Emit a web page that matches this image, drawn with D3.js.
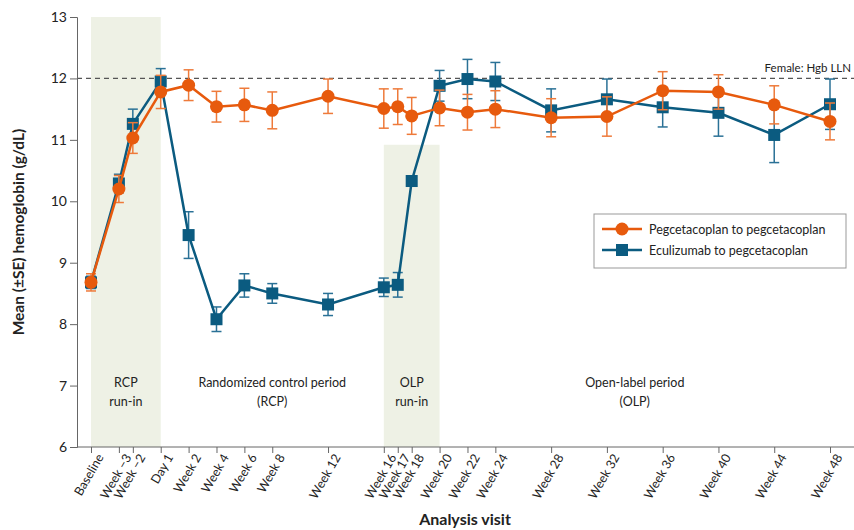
<!DOCTYPE html>
<html>
<head>
<meta charset="utf-8">
<script src="https://cdn.jsdelivr.net/npm/d3@7"></script>
<style>
body { margin: 0; background: #fff; }
svg { font-family: Lato, "Open Sans", sans-serif; }
</style>
</head>
<body>
<svg id="chart" width="854" height="530"></svg>
<script>
// visit positions in weeks (Day 1 = 0, baseline placed 5 weeks before)
const visits = [-5, -3, -2, 0, 2, 4, 6, 8, 12, 16, 17, 18, 20, 22, 24, 28, 32, 36, 40, 44, 48];
const visitLabels = ['Baseline', 'Week \u22123', 'Week \u22122', 'Day 1', 'Week 2', 'Week 4', 'Week 6', 'Week 8',
    'Week 12', 'Week 16', 'Week 17', 'Week 18', 'Week 20', 'Week 22', 'Week 24', 'Week 28', 'Week 32',
    'Week 36', 'Week 40', 'Week 44', 'Week 48'];

const pegMean = [8.68, 10.2, 11.03, 11.78, 11.89, 11.54, 11.57, 11.48, 11.71, 11.51, 11.54, 11.39, 11.52,
    11.45, 11.5, 11.36, 11.38, 11.8, 11.78, 11.57, 11.3];
const pegSE = [0.14, 0.22, 0.25, 0.27, 0.25, 0.25, 0.27, 0.3, 0.28, 0.32, 0.29, 0.3, 0.29,
    0.29, 0.3, 0.31, 0.32, 0.31, 0.28, 0.31, 0.3];

const eculMean = [8.68, 10.29, 11.26, 11.95, 9.45, 8.08, 8.63, 8.5, 8.32, 8.6, 8.64, 10.33, 11.88,
    11.99, 11.95, 11.48, 11.66, 11.53, 11.44, 11.08, 11.58];
const eculSE = [0.1, 0.15, 0.24, 0.21, 0.38, 0.2, 0.19, 0.16, 0.18, 0.15, 0.2, 0.08, 0.25,
    0.32, 0.31, 0.35, 0.33, 0.32, 0.38, 0.45, 0.41];

const yTicks = [6, 7, 8, 9, 10, 11, 12, 13];
const lln = 12;

const periods = [
    { label: ['RCP', 'run-in'], x0: -5, x1: 0, top: 13, shade: true },
    { label: ['Randomized control period', '(RCP)'], x0: 0, x1: 16, top: 13, shade: false },
    { label: ['OLP', 'run-in'], x0: 16, x1: 20, top: 10.92, shade: true },
    { label: ['Open-label period', '(OLP)'], x0: 20, x1: 48, top: 13, shade: false }
];

const series = [
    { name: 'Pegcetacoplan to pegcetacoplan', mean: pegMean, se: pegSE, color: '#e75a0d', errColor: '#ee7a3a', shape: 'circle' },
    { name: 'Eculizumab to pegcetacoplan', mean: eculMean, se: eculSE, color: '#0b5b80', errColor: '#2a7196', shape: 'square' }
];

const svg = d3.select('#chart');
const margin = { left: 77, top: 17, right: 0, bottom: 83 };
const width = 854, height = 530;

const x = d3.scaleLinear().domain([-5, 48]).range([91, 830]);
const y = d3.scaleLinear().domain([6, 13]).range([447, 17]);

// shaded run-in regions
svg.append('g').selectAll('rect')
    .data(periods.filter(p => p.shade))
    .join('rect')
    .attr('x', d => x(d.x0))
    .attr('width', d => x(d.x1) - x(d.x0))
    .attr('y', d => y(d.top))
    .attr('height', d => y(6) - y(d.top))
    .attr('fill', '#eef1e5');

// period labels
const plab = svg.append('g').selectAll('text')
    .data(periods)
    .join('text')
    .attr('x', d => (x(d.x0) + x(d.x1)) / 2)
    .attr('y', 387)
    .attr('text-anchor', 'middle')
    .attr('font-size', 12.5)
    .attr('fill', '#222');
plab.each(function(d) {
    d3.select(this).selectAll('tspan')
        .data(d.label)
        .join('tspan')
        .attr('x', (x(d.x0) + x(d.x1)) / 2)
        .attr('dy', (t, i) => i === 0 ? 0 : 19)
        .text(t => t);
});

// LLN reference line
svg.append('line')
    .attr('x1', margin.left).attr('x2', width)
    .attr('y1', y(lln)).attr('y2', y(lln))
    .attr('stroke', '#555').attr('stroke-width', 1.2)
    .attr('stroke-dasharray', '5,4');
svg.append('text')
    .attr('x', 851).attr('y', y(lln) - 6)
    .attr('text-anchor', 'end')
    .attr('font-size', 11.5)
    .attr('fill', '#222')
    .text('Female: Hgb LLN');

// y axis
const yAxis = svg.append('g')
    .attr('transform', `translate(${margin.left},0)`)
    .call(d3.axisLeft(y).tickValues(yTicks).tickSize(7).tickFormat(d3.format('d')));
yAxis.selectAll('text').attr('font-size', 14).attr('fill', '#222').attr('font-family', 'Lato, sans-serif');
yAxis.selectAll('line, path').attr('stroke', '#666');

// x axis
const xAxis = svg.append('g')
    .attr('transform', `translate(0,${y(6)})`)
    .call(d3.axisBottom(x).tickValues(visits).tickSize(6).tickFormat((d, i) => visitLabels[i]));
xAxis.select('.domain').attr('d', `M${margin.left},0H${width}`).attr('stroke', '#666');
xAxis.selectAll('line').attr('stroke', '#666');
xAxis.selectAll('text')
    .attr('font-size', 12.5)
    .attr('fill', '#222')
    .attr('font-family', 'Lato, sans-serif')
    .attr('text-anchor', 'end')
    .attr('dx', '-0.2em')
    .attr('dy', '0.55em')
    .attr('transform', 'rotate(-60)');

// axis titles
svg.append('text')
    .attr('transform', `translate(24,${(y(6) + y(13)) / 2}) rotate(-90)`)
    .attr('text-anchor', 'middle')
    .attr('font-size', 15.5)
    .attr('font-weight', 'bold')
    .attr('fill', '#222')
    .text('Mean (\u00b1SE) hemoglobin (g/dL)');
svg.append('text')
    .attr('x', 465).attr('y', 525)
    .attr('text-anchor', 'middle')
    .attr('font-size', 16)
    .attr('font-weight', 'bold')
    .attr('fill', '#222')
    .text('Analysis visit');

// series: error bars, lines, markers (blue drawn first so orange sits on top)
const line = d3.line().x(d => x(d.v)).y(d => y(d.m));
series.slice().reverse().forEach(s => {
    const pts = visits.map((v, i) => ({ v: v, m: s.mean[i], se: s.se[i] }));
    const g = svg.append('g');
    const eb = g.selectAll('g.eb').data(pts).join('g').attr('class', 'eb')
        .attr('stroke', s.errColor).attr('stroke-width', 1.5);
    eb.append('line')
        .attr('x1', d => x(d.v)).attr('x2', d => x(d.v))
        .attr('y1', d => y(d.m - d.se)).attr('y2', d => y(d.m + d.se));
    eb.append('line')
        .attr('x1', d => x(d.v) - 5).attr('x2', d => x(d.v) + 5)
        .attr('y1', d => y(d.m - d.se)).attr('y2', d => y(d.m - d.se));
    eb.append('line')
        .attr('x1', d => x(d.v) - 5).attr('x2', d => x(d.v) + 5)
        .attr('y1', d => y(d.m + d.se)).attr('y2', d => y(d.m + d.se));
    g.append('path').datum(pts)
        .attr('d', line).attr('fill', 'none')
        .attr('stroke', s.color).attr('stroke-width', 2.5);
    if (s.shape === 'circle') {
        g.selectAll('circle').data(pts).join('circle')
            .attr('cx', d => x(d.v)).attr('cy', d => y(d.m)).attr('r', 6.5)
            .attr('fill', s.color);
    } else {
        g.selectAll('rect').data(pts).join('rect')
            .attr('x', d => x(d.v) - 6).attr('y', d => y(d.m) - 6)
            .attr('width', 12).attr('height', 12)
            .attr('fill', s.color);
    }
});

// legend
const legend = svg.append('g').attr('transform', 'translate(594,214)');
legend.append('rect')
    .attr('width', 252).attr('height', 54)
    .attr('fill', '#fff').attr('stroke', '#999').attr('stroke-width', 1);
series.forEach((s, i) => {
    const ly = 15 + i * 21;
    legend.append('line')
        .attr('x1', 8).attr('x2', 48).attr('y1', ly).attr('y2', ly)
        .attr('stroke', s.color).attr('stroke-width', 2.5);
    if (s.shape === 'circle') {
        legend.append('circle').attr('cx', 28).attr('cy', ly).attr('r', 6.5).attr('fill', s.color);
    } else {
        legend.append('rect').attr('x', 22).attr('y', ly - 6).attr('width', 12).attr('height', 12).attr('fill', s.color);
    }
    legend.append('text')
        .attr('x', 55).attr('y', ly + 4.5)
        .attr('font-size', 12.5)
        .attr('fill', '#222')
        .text(s.name);
});
</script>
</body>
</html>
